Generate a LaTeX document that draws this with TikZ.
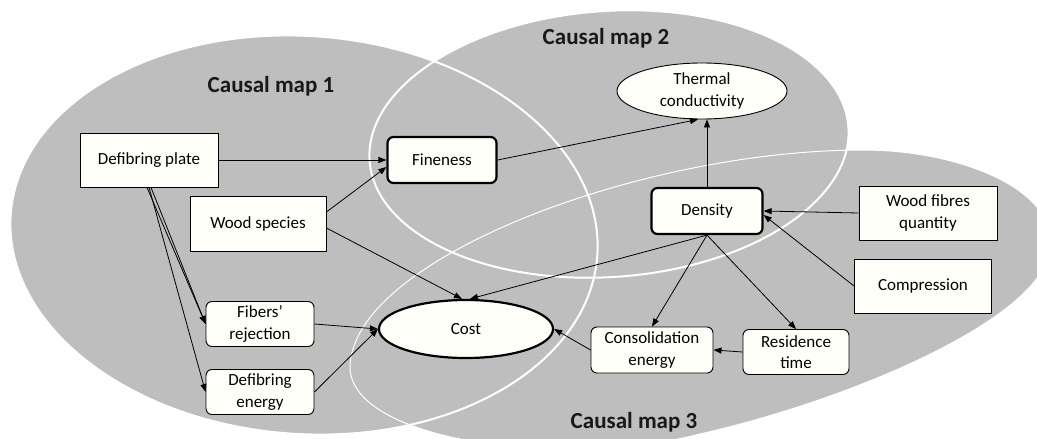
\documentclass[tikz,border=0pt]{standalone}
\usepackage{fontspec}
\setmainfont{Carlito}
\usetikzlibrary{arrows.meta,shapes.geometric}
\definecolor{mapgray}{RGB}{190,190,190}
\definecolor{boxfill}{RGB}{255,255,250}
\newcommand\mynodefont{\fontsize{17}{21.5}\selectfont}
\newcommand\mymapfont{\fontsize{23}{26}\selectfont\bfseries}
\newcommand\mapthreepath{(350,368) .. controls (350,260) and (640,150) .. (863,150) .. controls (960,150) and (1060,190) .. (1050,250) .. controls (1040,320) and (850,400) .. (700,434) .. controls (560,470) and (352,440) .. (350,368) -- cycle}
\begin{document}
\begin{tikzpicture}[x=1pt,y=-1pt,
  box/.style={draw=black, line width=0.9pt, fill=boxfill, inner sep=0pt, align=center, font=\mynodefont},
  sqbox/.style={box, rectangle},
  rndbox/.style={box, rectangle, rounded corners=6pt},
  heavy/.style={line width=2.2pt},
  ellbox/.style={box, ellipse},
  arr/.style={-{Triangle[length=8pt,width=6pt]}, line width=0.8pt, draw=black},
  maplabel/.style={font=\mymapfont, text=black!90}
]
\useasboundingbox (0,0) rectangle (1037,439);
\begin{scope}
\clip (0,0) rectangle (1037,439);
% gray areas
\fill[mapgray, rotate around={-4:(304,235)}] (304,235) ellipse [x radius=294pt, y radius=199pt];
\fill[mapgray, rotate around={4:(609,144)}] (609,144) ellipse [x radius=240pt, y radius=133pt];
\fill[mapgray] \mapthreepath;
% white outlines
\draw[white, line width=2pt, rotate around={-4:(304,235)}] (304,235) ellipse [x radius=294pt, y radius=199pt];
\draw[white, line width=2pt, rotate around={4:(609,144)}] (609,144) ellipse [x radius=240pt, y radius=133pt];
\draw[white, line width=1pt] \mapthreepath;
\end{scope}

\node[maplabel] (m1) at (271,86) {Causal map 1};
\node[maplabel] (m2) at (606,38) {Causal map 2};
\node[maplabel] (m3) at (634,422) {Causal map 3};

% nodes
\node[sqbox, minimum width=138pt, minimum height=54pt] (dp) at (149,160) {Defibring plate};
\node[rndbox, heavy, minimum width=109pt, minimum height=46pt] (fin) at (442,160) {Fineness};
\node[sqbox, minimum width=136pt, minimum height=55pt] (ws) at (258,224) {Wood species};
\node[rndbox, minimum width=108pt, minimum height=45pt] (fr) at (260,324) {Fibers’\\rejection};
\node[rndbox, minimum width=108pt, minimum height=45pt] (de) at (260,392) {Defibring\\energy};
\node[ellbox, heavy, minimum width=174pt, minimum height=58pt] (cost) at (466,329) {Cost};
\node[ellbox, minimum width=170pt, minimum height=56pt] (tc) at (702,91) {Thermal\\conductivity};
\node[rndbox, heavy, minimum width=111pt, minimum height=46pt] (den) at (707,211) {Density};
\node[sqbox, minimum width=138pt, minimum height=54pt] (wfq) at (928,213) {Wood fibres\\quantity};
\node[sqbox, minimum width=137pt, minimum height=54pt] (comp) at (923,286) {Compression};
\node[rndbox, minimum width=106pt, minimum height=45pt] (rt) at (796,352) {Residence\\time};
\node[rndbox, minimum width=122pt, minimum height=46pt] (ce) at (652,350) {Consolidation\\energy};

% connectors
\draw[arr] (dp.east) -- (fin.west);
\draw[arr] ([yshift=12pt]ws.east) -- ([yshift=-7pt]fin.west);
\draw[arr] ([yshift=-4pt]ws.east) -- ([xshift=-4pt]cost.north);
\draw[arr] (den.south) -- ([xshift=4pt]cost.north);
\draw[arr] (fin.east) -- ([xshift=-4pt]tc.south);
\draw[arr] (den.north) -- (den.north |- tc.south);
\draw[arr] (wfq.west) -- (den.east);
\draw[arr] (comp.west) -- ([yshift=-4pt]den.east);
\draw[arr] (den.south) -- (ce.north);
\draw[arr] (den.south) -- (rt.north);
\draw[arr] (rt.west) -- (ce.east);
\draw[arr] (ce.west) -- (cost.east);
\draw[arr] (fr.east) -- (cost.west);
\draw[arr] (de.east) -- (cost.west);
\draw[arr] ([xshift=-2pt]dp.south) -- (fr.west);
\draw[arr] ([xshift=2pt]dp.south) -- (fr.west);
\draw[arr] (dp.south) -- (de.west);
\end{tikzpicture}
\end{document}
